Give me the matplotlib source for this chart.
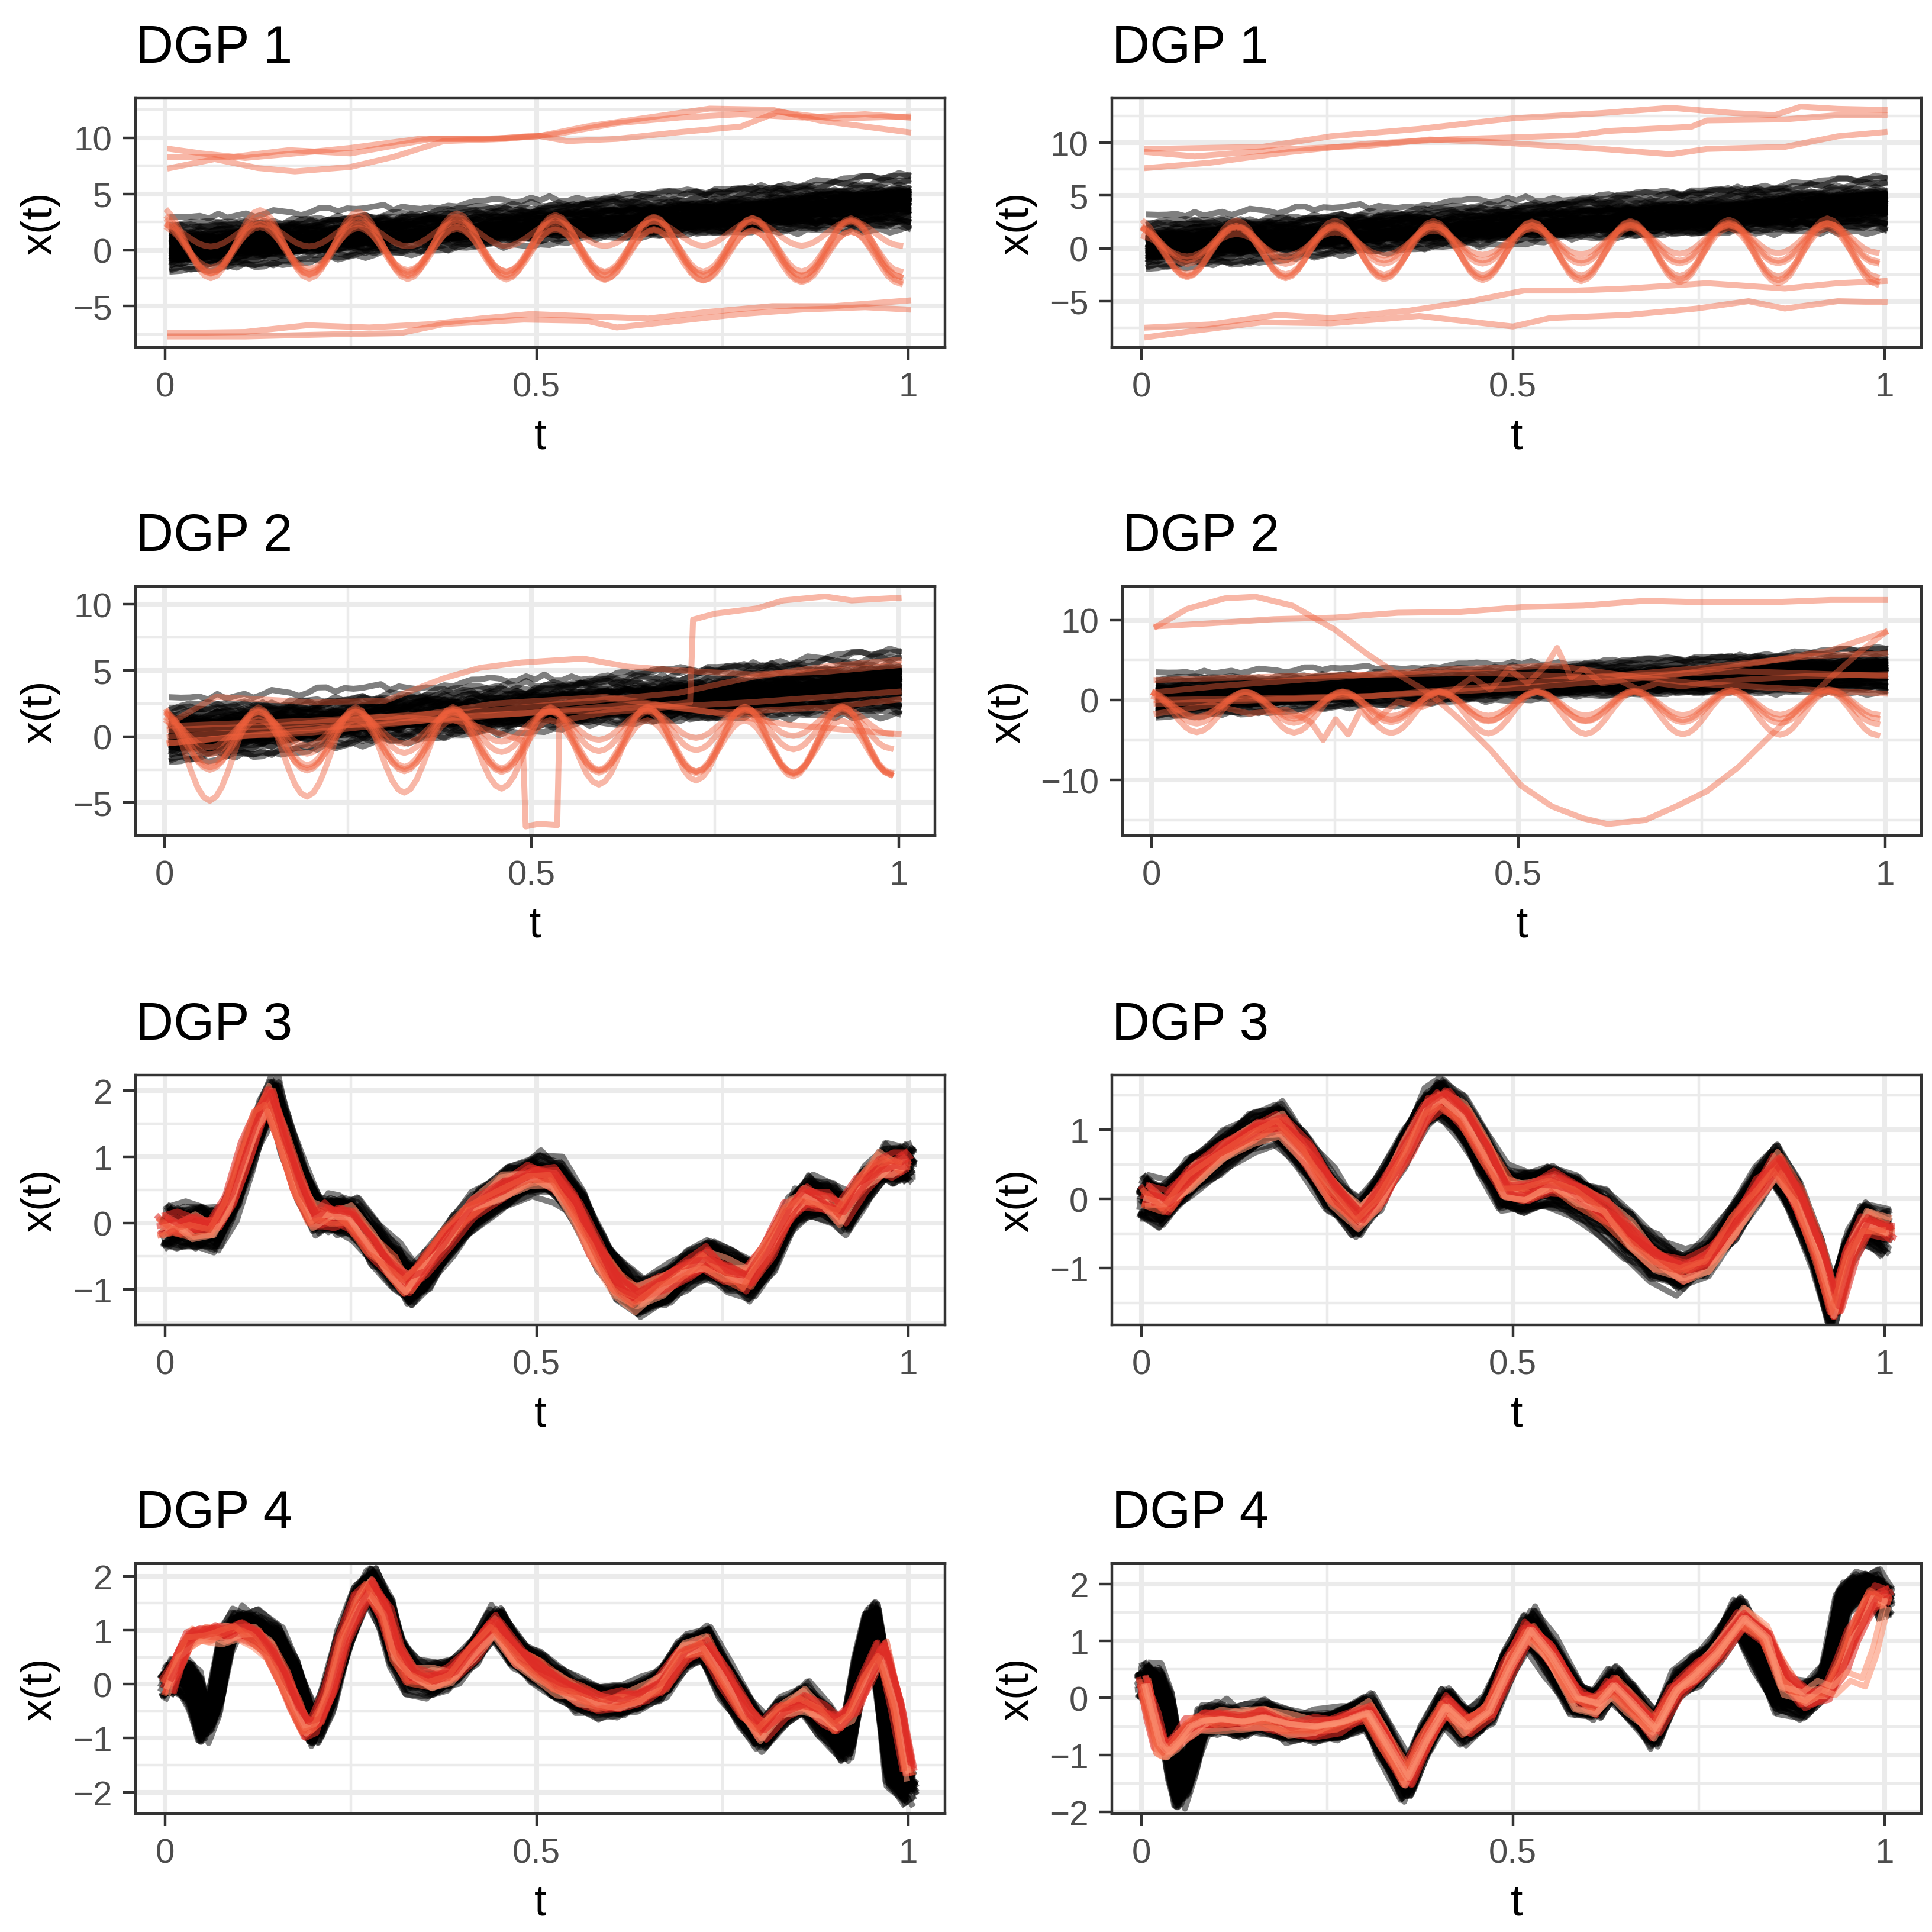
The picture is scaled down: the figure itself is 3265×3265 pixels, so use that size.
import numpy as np
import matplotlib
matplotlib.use("Agg")
import matplotlib.pyplot as plt
from matplotlib.ticker import FixedLocator

plt.rcParams['font.family'] = ['Liberation Sans', 'DejaVu Sans']

W = 3266
DPI = 200
LW = 3.6
INK = '#333333'
GRID = '#EBEBEB'
SALMON = '#F0603C'
SALMON_ALPHA = 0.45
RED = '#DE2D26'
MID = '#EF5A3C'

# roughness of the curves, read as a unitless -1..1 pattern
JITTER = [0.42, -0.87, 0.15, 0.93, -0.34, -0.61, 0.78, -0.05, -0.92, 0.51,
          0.27, -0.73, 0.66, -0.18, -0.99, 0.38, 0.84, -0.46, 0.09, -0.64,
          0.97, -0.29, 0.55, -0.81, 0.21, 0.71, -0.12, -0.57, 0.88, -0.39,
          0.03, -0.95, 0.62, 0.33, -0.68, 0.80, -0.22, -0.50, 0.47, 0.96,
          -0.77, 0.12, -0.41, 0.69, -0.90, 0.25, 0.58, -0.08, -0.84, 0.36,
          0.75, -0.60, 0.18, -0.31, 0.91, -0.70, 0.06, 0.49, -0.97, 0.30, -0.15]

# black band of DGP 1/2: offset of each curve at t=0 and at t=1
WALK_START = [0.1, -0.4, 0.6, -1.1, 1.3, -0.2, 0.3, -0.8, 0.9, -1.6,
              1.8, -0.6, 0.0, 0.5, -1.3, 1.0, -2.4, 2.6, -0.1, 0.4,
              -0.9, 1.5, -1.9, 0.7, -0.3, 0.2, -0.7, 1.1, -1.4, 2.1,
              -0.5, 0.8, -1.0, 0.3, -2.0, 1.7, -0.2, 0.6, -1.2, 1.2]
WALK_END = [1.2, -0.3, -1.5, 0.4, 2.5, -0.8, 0.1, 0.9, -2.3, 0.6,
            1.6, -1.1, -0.5, 0.2, 1.0, -1.8, 0.7, 2.0, -0.2, -1.3,
            0.5, 1.4, -0.6, -2.0, 0.3, 0.8, -0.9, 1.9, -0.1, -1.6,
            0.0, 1.1, -0.4, 2.6, -1.0, 0.4, -0.7, 1.3, -1.4, 0.6]

# black curves of DGP 3/4: vertical offset and time shift of each curve
SHAPE_OFF = [0.02, -0.05, 0.08, -0.01, 0.04, -0.09, 0.06, -0.03, 0.0, 0.11,
             -0.07, 0.03, -0.12, 0.05, -0.02, 0.09, -0.06, 0.01, -0.1, 0.07,
             -0.04, 0.12, -0.08, 0.02, 0.04, -0.01, 0.1, -0.05, 0.06, -0.11,
             0.03, -0.03, 0.08, -0.07, 0.0, 0.05, -0.09, 0.01, -0.02, 0.07]
SHAPE_DT = [0.001, -0.003, 0.004, -0.006, 0.002, 0.0, -0.002, 0.005, -0.004, 0.003,
            -0.001, 0.006, -0.005, 0.001, 0.002, -0.003, 0.004, -0.002, 0.0, 0.003,
            -0.006, 0.005, -0.001, 0.002, -0.004, 0.001, 0.003, -0.005, 0.006, -0.002,
            0.0, 0.004, -0.003, 0.002, -0.001, 0.005, -0.004, 0.001, -0.006, 0.003]
RED_OFF = [0.03, -0.06, 0.08, -0.02, 0.0, 0.05, -0.09, 0.1, -0.04, 0.02]
RED_DT = [-0.006, -0.003, 0.0, 0.003, -0.008, 0.005, -0.001, 0.002, -0.004, 0.006]
RED_TONE = [RED, RED, '#FC9272', RED, RED, MID, RED, '#FC9272', RED, MID]

# sinusoidal outliers of DGP 1/2: peak at t~0.128, period ~0.1325
WAVE_PEAK = 0.128
WAVE_PERIOD = 0.1325
WAVE_CYCLE = [0.92, 0.71, 0.38, 0.0, -0.38, -0.71, -0.92, -1.0,
              -0.92, -0.71, -0.38, 0.0, 0.38, 0.71, 0.92, 1.0]

# ---------------- DGP 1, left ----------------
d1l_band = (0.2, 4.1, 1.0)
d1l_drift = [
    ([0.007, 0.05, 0.108, 0.175, 0.25, 0.342, 0.425, 0.5, 0.567, 0.65, 0.733, 0.817, 0.883, 1.0],
     [9.0, 8.6, 8.2, 8.6, 9.1, 9.9, 9.9, 10.1, 11.0, 11.8, 12.6, 12.5, 11.5, 10.5]),
    ([0.007, 0.092, 0.167, 0.25, 0.358, 0.442, 0.5, 0.542, 0.608, 0.692, 0.775, 0.825, 0.9, 1.0],
     [8.3, 8.3, 8.9, 8.6, 9.9, 9.9, 10.2, 9.7, 9.9, 10.5, 11.0, 12.3, 11.7, 11.9]),
    ([0.007, 0.067, 0.125, 0.175, 0.25, 0.308, 0.375, 0.458, 0.525, 0.608, 0.692, 0.775, 0.858, 0.942, 1.0],
     [7.3, 8.1, 7.3, 7.0, 7.4, 8.3, 9.7, 9.9, 10.3, 11.3, 11.8, 12.1, 11.8, 12.1, 11.8]),
    ([0.007, 0.108, 0.192, 0.275, 0.358, 0.425, 0.492, 0.567, 0.65, 0.733, 0.817, 0.9, 1.0],
     [-7.4, -7.3, -6.7, -6.9, -6.6, -6.1, -5.7, -5.9, -6.1, -5.5, -5.0, -5.0, -4.5]),
    ([0.007, 0.108, 0.233, 0.317, 0.375, 0.483, 0.567, 0.608, 0.692, 0.775, 0.858, 0.942, 1.0],
     [-7.7, -7.7, -7.5, -7.4, -6.6, -6.2, -6.3, -6.9, -6.3, -5.7, -5.3, -5.1, -5.3]),
]
d1l_sinus = [(0.6, -0.1, 3.1, 2.7), (0.5, 0.2, 2.6, 2.6), (0.3, -0.4, 1.8, 2.0),
             (1.3, 1.5, 1.0, 1.1), (0.2, -0.7, 2.2, 2.3), (0.4, 0.3, 2.4, 2.2)]

# ---------------- DGP 1, right ----------------
d1r_band = (0.3, 4.0, 1.05)
d1r_drift = [
    ([0.008, 0.163, 0.255, 0.374, 0.5, 0.62, 0.712, 0.796, 0.852, 0.887, 0.937, 1.0],
     [9.4, 9.6, 10.6, 11.3, 12.3, 12.8, 13.3, 12.8, 12.6, 13.4, 13.2, 13.1]),
    ([0.008, 0.072, 0.198, 0.304, 0.388, 0.487, 0.529, 0.62, 0.712, 0.761, 0.866, 0.937, 1.0],
     [9.1, 8.7, 9.4, 9.7, 10.3, 10.0, 9.8, 9.4, 8.9, 9.4, 9.6, 10.6, 11.0]),
    ([0.008, 0.093, 0.198, 0.304, 0.409, 0.5, 0.585, 0.627, 0.74, 0.761, 0.866, 0.937, 1.0],
     [7.6, 8.1, 9.1, 9.9, 10.3, 10.5, 10.7, 11.1, 11.5, 12.1, 12.2, 12.6, 12.6]),
    ([0.008, 0.093, 0.184, 0.255, 0.36, 0.444, 0.515, 0.585, 0.655, 0.761, 0.866, 0.937, 1.0],
     [-7.5, -7.2, -6.3, -6.6, -5.9, -5.0, -4.0, -4.0, -3.8, -3.3, -3.8, -3.3, -3.1]),
    ([0.008, 0.072, 0.163, 0.255, 0.374, 0.5, 0.55, 0.655, 0.747, 0.817, 0.866, 0.937, 1.0],
     [-8.4, -7.8, -7.0, -7.1, -6.4, -7.4, -6.6, -6.3, -5.7, -5.0, -5.7, -5.0, -5.1]),
]
d1r_sinus = [(-0.3, -0.1, 2.3, 3.0), (0.0, -0.5, 2.7, 2.9), (0.3, 0.4, 1.8, 1.8),
             (0.2, 1.0, 1.0, 1.4), (-0.2, -0.4, 2.2, 2.3), (0.4, 0.6, 1.5, 1.8)]

# ---------------- DGP 2, left ----------------
d2l_band = (0.2, 3.9, 1.0)
d2l_drift = [
    ([0.007, 0.1, 0.2, 0.3, 0.4, 0.5, 0.6, 0.7, 0.716, 0.72, 0.75, 0.807, 0.843, 0.9, 0.936, 1.0],
     [-0.5, 0.0, 0.3, 0.9, 1.5, 1.8, 2.0, 2.5, 2.6, 8.85, 9.3, 9.7, 10.3, 10.6, 10.3, 10.5]),
    ([0.007, 0.1, 0.2, 0.3, 0.4, 0.488, 0.492, 0.51, 0.535, 0.538, 0.6, 0.7, 0.8, 0.9, 1.0],
     [0.8, 1.0, 1.2, 1.5, 1.2, -0.3, -6.8, -6.6, -6.7, 1.2, 1.8, 2.3, 2.6, 3.0, 3.4]),
    ([0.007, 0.07, 0.2, 0.3, 0.38, 0.43, 0.486, 0.57, 0.63, 0.7, 0.8, 0.9, 1.0],
     [1.0, 3.0, 2.6, 2.7, 4.4, 5.2, 5.6, 5.9, 5.3, 5.0, 4.7, 4.9, 5.4]),
    ([0.007, 0.15, 0.3, 0.45, 0.6, 0.7, 0.8, 0.9, 1.0],
     [0.5, 0.8, 1.5, 2.0, 2.8, 3.3, 4.5, 5.3, 5.8]),
    ([0.007, 0.1, 0.2, 0.3, 0.45, 0.6, 0.75, 0.9, 1.0],
     [-0.5, 0.0, 0.5, 1.2, 2.5, 3.0, 1.8, 2.2, 2.8]),
    ([0.007, 0.15, 0.3, 0.5, 0.65, 0.75, 0.85, 0.93, 1.0],
     [0.0, 0.5, 1.0, 1.8, 2.5, 1.8, 0.9, 0.5, 0.2]),
]
d2l_sinus = [(-1.4, -0.2, 3.6, 2.5), (-0.3, -0.5, 2.2, 2.4), (0.0, -0.3, 2.0, 2.6),
             (0.2, 0.6, 1.6, 1.5), (-0.5, -0.8, 1.8, 2.0), (0.3, 1.2, 1.2, 1.0)]

# ---------------- DGP 2, right ----------------
d2r_band = (0.3, 3.5, 1.15)
d2r_drift = [
    ([0.007, 0.083, 0.167, 0.25, 0.336, 0.42, 0.504, 0.589, 0.673, 0.757, 0.841, 0.926, 1.0],
     [9.2, 9.6, 10.1, 10.3, 10.9, 11.0, 11.6, 11.8, 12.4, 12.2, 12.2, 12.5, 12.5]),
    ([0.007, 0.049, 0.1, 0.142, 0.192, 0.25, 0.293, 0.336, 0.378, 0.42, 0.462, 0.504,
      0.546, 0.589, 0.622, 0.673, 0.715, 0.757, 0.8, 0.841, 0.884, 0.926, 0.968, 1.0],
     [9.2, 11.4, 12.7, 12.9, 11.8, 8.8, 5.8, 3.2, 0.9, -2.4, -6.2, -10.7,
      -13.3, -14.8, -15.5, -15.0, -13.3, -11.4, -8.4, -4.7, -0.9, 2.8, 6.2, 8.4]),
    ([0.007, 0.083, 0.133, 0.184, 0.218, 0.234, 0.251, 0.268, 0.285, 0.302, 0.336, 0.369,
      0.403, 0.437, 0.462, 0.487, 0.513, 0.538, 0.553, 0.572, 0.589, 0.614, 0.639, 0.664,
      0.69, 0.723, 0.757, 0.8, 0.9, 1.0],
     [-1.7, -0.6, -1.7, -1.2, -2.8, -5.0, -2.4, -4.3, -1.3, -2.8, -0.2, -0.9,
      0.6, 2.8, 1.3, 3.9, 2.1, 4.3, 6.5, 2.8, 3.9, 2.1, 2.4, 1.3,
      2.1, 1.7, 2.1, 2.5, 3.0, 3.2]),
    ([0.007, 0.15, 0.3, 0.5, 0.6, 0.7, 0.78, 0.85, 0.926, 1.0],
     [0.0, 0.2, 0.5, 1.5, 2.2, 3.0, 4.0, 5.0, 6.2, 8.5]),
    ([0.007, 0.1, 0.2, 0.3, 0.4, 0.55, 0.65, 0.75, 0.85, 1.0],
     [1.0, 1.8, 2.5, 3.2, 3.8, 4.3, 3.0, 2.0, 1.5, 0.8]),
    ([0.007, 0.15, 0.3, 0.45, 0.55, 0.65, 0.75, 0.9, 1.0],
     [-0.5, 0.0, 0.5, 1.6, 2.5, 3.2, 4.0, 5.5, 5.8]),
    ([0.007, 0.2, 0.45, 0.6, 0.8, 1.0],
     [2.5, 3.0, 3.4, 2.8, 3.6, 3.0]),
]
d2r_sinus = [(-1.5, -1.7, 2.5, 2.7), (-1.0, -0.5, 2.0, 1.8),
             (-0.6, -1.0, 1.6, 2.0), (-0.8, -0.2, 1.3, 1.6)]

# ---------------- DGP 3 ----------------
d3l_t = [0.005, 0.022, 0.045, 0.072, 0.093, 0.114, 0.132, 0.146, 0.163, 0.184, 0.205, 0.22,
         0.235, 0.255, 0.283, 0.311, 0.332, 0.353, 0.388, 0.416, 0.458, 0.5, 0.529, 0.557,
         0.585, 0.613, 0.641, 0.677, 0.705, 0.733, 0.761, 0.789, 0.817, 0.845, 0.866, 0.895,
         0.916, 0.944, 0.965, 0.985, 1.0]
d3l_x = [-0.03, -0.03, -0.05, -0.09, 0.32, 1.07, 1.6, 1.9, 1.28, 0.59, 0.12, 0.14,
         0.12, 0.06, -0.33, -0.66, -0.93, -0.69, -0.18, 0.18, 0.53, 0.74, 0.65, 0.24,
         -0.42, -0.9, -1.14, -0.93, -0.72, -0.54, -0.72, -0.87, -0.42, 0.18, 0.41, 0.3,
         0.12, 0.59, 0.86, 0.89, 0.9]
d3r_t = [0.005, 0.03, 0.065, 0.107, 0.149, 0.184, 0.219, 0.255, 0.29, 0.318, 0.353, 0.381,
         0.402, 0.43, 0.459, 0.487, 0.515, 0.55, 0.585, 0.62, 0.655, 0.69, 0.726, 0.761,
         0.796, 0.831, 0.852, 0.88, 0.909, 0.93, 0.951, 0.972, 1.0]
d3r_x = [0.05, -0.07, 0.33, 0.67, 0.95, 1.1, 0.67, 0.1, -0.3, 0.05, 0.73, 1.3,
         1.47, 1.18, 0.67, 0.16, 0.1, 0.22, 0.05, -0.18, -0.52, -0.86, -1.06, -0.86,
         -0.35, 0.22, 0.5, -0.01, -0.8, -1.55, -0.75, -0.35, -0.47]

# ---------------- DGP 4 ----------------
d4l_t = [0.005, 0.015, 0.03, 0.04, 0.054, 0.068, 0.082, 0.096, 0.121, 0.149, 0.17, 0.191,
         0.202, 0.219, 0.24, 0.262, 0.276, 0.297, 0.311, 0.332, 0.36, 0.388, 0.416, 0.444,
         0.473, 0.5, 0.529, 0.557, 0.585, 0.613, 0.641, 0.669, 0.697, 0.726, 0.754, 0.782,
         0.803, 0.831, 0.859, 0.887, 0.916, 0.937, 0.951, 0.965, 0.979, 1.0]
d4l_x = [0.08, 0.22, 0.08, -0.1, -0.8, -0.29, 0.8, 1.1, 1.06, 0.8, 0.22, -0.58,
         -0.84, -0.29, 0.8, 1.6, 1.86, 1.35, 0.62, 0.15, 0.08, 0.22, 0.62, 1.17,
         0.59, 0.3, 0.0, -0.22, -0.36, -0.29, -0.18, 0.0, 0.59, 0.75, 0.08, -0.58,
         -0.95, -0.51, -0.29, -0.65, -1.16, 0.44, 1.24, 0.08, -1.57, -1.93]
d4l_red_t = [0.005, 0.02, 0.035, 0.05, 0.065, 0.08, 0.1, 0.121, 0.14, 0.16, 0.175, 0.19,
             0.205, 0.222, 0.24, 0.262, 0.276, 0.297, 0.311, 0.332, 0.36, 0.388, 0.416, 0.444,
             0.473, 0.5, 0.529, 0.557, 0.585, 0.613, 0.641, 0.669, 0.697, 0.726, 0.754, 0.782,
             0.803, 0.831, 0.859, 0.887, 0.905, 0.925, 0.945, 0.965, 0.985, 1.0]
d4l_red_x = [0.0, 0.5, 0.85, 0.9, 0.92, 0.95, 1.0, 0.9, 0.6, 0.1, -0.35, -0.8,
             -0.7, -0.15, 0.8, 1.55, 1.8, 1.3, 0.6, 0.15, 0.1, 0.2, 0.6, 1.1,
             0.55, 0.3, 0.0, -0.2, -0.35, -0.3, -0.2, 0.0, 0.55, 0.72, 0.1, -0.55,
             -0.9, -0.5, -0.3, -0.55, -0.75, -0.5, 0.1, 0.66, -0.4, -1.57]
d4r_t = [0.005, 0.019, 0.033, 0.044, 0.054, 0.068, 0.082, 0.107, 0.135, 0.163, 0.198, 0.233,
         0.269, 0.304, 0.325, 0.357, 0.381, 0.409, 0.437, 0.466, 0.494, 0.522, 0.55, 0.585,
         0.613, 0.634, 0.655, 0.69, 0.719, 0.747, 0.775, 0.803, 0.831, 0.859, 0.894, 0.923,
         0.944, 0.965, 0.986, 1.0]
d4r_x = [0.32, 0.25, -0.2, -1.07, -1.65, -1.07, -0.44, -0.37, -0.44, -0.34, -0.48, -0.51,
         -0.44, -0.24, -0.72, -1.48, -0.72, -0.1, -0.51, -0.24, 0.6, 1.25, 0.73, -0.03,
         -0.1, 0.25, -0.03, -0.58, 0.18, 0.49, 0.87, 1.46, 0.84, 0.04, -0.03, 0.32,
         1.7, 1.94, 1.91, 1.7]
d4r_red_t = [0.005, 0.015, 0.025, 0.035, 0.05, 0.065, 0.082, 0.107, 0.135, 0.163, 0.198, 0.233,
             0.269, 0.304, 0.325, 0.357, 0.381, 0.409, 0.437, 0.466, 0.494, 0.522, 0.55, 0.585,
             0.613, 0.634, 0.655, 0.69, 0.719, 0.747, 0.775, 0.81, 0.84, 0.865, 0.894, 0.923,
             0.944, 0.958, 0.972, 0.986, 1.0]
d4r_red_x = [0.2, -0.3, -0.8, -0.95, -0.75, -0.5, -0.4, -0.37, -0.42, -0.34, -0.46, -0.5,
             -0.42, -0.26, -0.7, -1.4, -0.75, -0.15, -0.5, -0.25, 0.55, 1.2, 0.75, 0.0,
             -0.1, 0.22, -0.05, -0.55, 0.15, 0.45, 0.82, 1.4, 1.05, 0.35, 0.0, 0.1,
             0.6, 1.1, 1.5, 1.8, 1.75]
d4r_late_t = [0.86, 0.89, 0.91, 0.93, 0.95, 0.97, 0.985, 1.0]
d4r_late_x = [0.2, 0.1, 0.3, 0.2, 0.45, 0.35, 0.9, 1.7]

band_t = np.linspace(0.01, 1.0, 81)
wave_t = WAVE_PEAK - WAVE_PERIOD + WAVE_PERIOD / 16 * np.arange(1, 121)
wave_v = np.array((WAVE_CYCLE * 8)[:120])


def jit(n, i, seed):
    return np.array([JITTER[(k * 7 + i * 13 + seed) % len(JITTER)] for k in range(n)])


def band_curve(ax, band, s, e, i, amp):
    c0, c1, spread = band
    y0 = c0 + spread * s
    y1 = c1 + spread * e
    y = y0 + (y1 - y0) * band_t + amp * jit(len(band_t), i, 0)
    ax.plot(band_t, y, color='black', alpha=0.5, lw=LW, zorder=2)


def draw_dgp12(ax, band, drift, sinus, amp=0.3):
    n = len(WALK_START)
    for i in range(n):
        band_curve(ax, band, WALK_START[i], WALK_END[i], i, amp)
    for i in range(n):
        s = WALK_START[i]
        e = WALK_END[(i + 17) % n]
        if abs(s) <= 1.3 and abs(e) <= 1.3:
            band_curve(ax, band, s, e, i + 40, amp)
    for c0, c1, a0, a1 in sinus:
        y = c0 + (c1 - c0) * wave_t + (a0 + (a1 - a0) * wave_t) * wave_v
        ax.plot(wave_t, y, color=SALMON, alpha=SALMON_ALPHA, lw=LW, zorder=3)
    for t, v in drift:
        ax.plot(t, v, color=SALMON, alpha=SALMON_ALPHA, lw=LW, zorder=3)


def draw_shape(ax, t, x, amp, dt_scale, off_scale=1.6):
    t = np.array(t)
    x = np.array(x)
    for rep, sign in enumerate((1, -1)):
        for i, (o, d) in enumerate(zip(SHAPE_OFF, SHAPE_DT)):
            ax.plot(t + sign * d * dt_scale, x + sign * o * off_scale
                    + amp * jit(len(t), i, 3 + 19 * rep),
                    color='black', alpha=0.5, lw=LW, zorder=2)


def draw_red(ax, t, x, amp, bias):
    t = np.array(t)
    x = np.array(x)
    for rep, sign in enumerate((1, -1)):
        for i, (o, d, c) in enumerate(zip(RED_OFF, RED_DT, RED_TONE)):
            ax.plot(t + sign * d + bias, x + sign * o + amp * jit(len(t), i, 29 + 11 * rep),
                    color=c, alpha=0.6, lw=LW, zorder=3)


def style(ax, ylim, yticks, yminor, title):
    ax.set_xlim(-0.0395, 1.0495)
    ax.set_ylim(*ylim)
    ax.xaxis.set_major_locator(FixedLocator([0, 0.5, 1]))
    ax.set_xticklabels(['0', '0.5', '1'])
    ax.xaxis.set_minor_locator(FixedLocator([0.25, 0.75]))
    ax.yaxis.set_major_locator(FixedLocator(yticks))
    ax.yaxis.set_minor_locator(FixedLocator(yminor))
    ax.grid(which='major', color=GRID, lw=2.9)
    ax.grid(which='minor', color=GRID, lw=1.6)
    ax.set_axisbelow(True)
    ax.tick_params(which='major', length=7.5, width=1.6, color=INK,
                   labelsize=21, labelcolor='#4D4D4D')
    ax.tick_params(which='minor', length=0)
    ax.tick_params(axis='x', pad=7)
    ax.tick_params(axis='y', pad=6.7)
    for s in ax.spines.values():
        s.set_color(INK)
        s.set_linewidth(1.6)
        s.set_zorder(5)
    ax.set_xlabel('t', fontsize=26.5, labelpad=8)
    ax.set_ylabel('x(t)', fontsize=26.5, labelpad=7.5)
    ax.set_title(title, loc='left', fontsize=32, pad=22)


def rect(x0, x1, y0, y1):
    return [x0 / W, 1 - y1 / W, (x1 - x0) / W, (y1 - y0) / W]


fig = plt.figure(figsize=(W / DPI, W / DPI), dpi=DPI)

# row 1
ax = fig.add_axes(rect(229, 1597, 167, 588))
draw_dgp12(ax, d1l_band, d1l_drift, d1l_sinus)
style(ax, (-8.67, 13.52), [-5, 0, 5, 10], [-7.5, -2.5, 2.5, 7.5, 12.5], 'DGP 1')

ax = fig.add_axes(rect(1879, 3247, 167, 588))
draw_dgp12(ax, d1r_band, d1r_drift, d1r_sinus)
style(ax, (-9.37, 14.2), [-5, 0, 5, 10], [-7.5, -2.5, 2.5, 7.5, 12.5], 'DGP 1')

# row 2
ax = fig.add_axes(rect(229, 1580, 992, 1413))
draw_dgp12(ax, d2l_band, d2l_drift, d2l_sinus)
style(ax, (-7.49, 11.36), [-5, 0, 5, 10], [-2.5, 2.5, 7.5], 'DGP 2')

ax = fig.add_axes(rect(1897, 3247, 992, 1413))
draw_dgp12(ax, d2r_band, d2r_drift, d2r_sinus)
style(ax, (-16.93, 14.19), [-10, 0, 10], [-15, -5, 5], 'DGP 2')

# row 3
ax = fig.add_axes(rect(229, 1597, 1818, 2240))
draw_shape(ax, d3l_t, d3l_x, 0.17, 1.2)
draw_red(ax, d3l_t, d3l_x, 0.12, -0.006)
style(ax, (-1.54, 2.23), [-1, 0, 1, 2], [-1.5, -0.5, 0.5, 1.5], 'DGP 3')

ax = fig.add_axes(rect(1879, 3247, 1818, 2240))
draw_shape(ax, d3r_t, d3r_x, 0.16, 1.2)
draw_red(ax, d3r_t, d3r_x, 0.11, 0.004)
style(ax, (-1.82, 1.79), [-1, 0, 1], [-1.5, -0.5, 0.5, 1.5], 'DGP 3')

# row 4
ax = fig.add_axes(rect(229, 1597, 2643, 3066))
draw_shape(ax, d4l_t, d4l_x, 0.17, 1.6)
draw_red(ax, d4l_red_t, d4l_red_x, 0.12, 0.0)
style(ax, (-2.40, 2.24), [-2, -1, 0, 1, 2], [-1.5, -0.5, 0.5, 1.5], 'DGP 4')

ax = fig.add_axes(rect(1879, 3247, 2643, 3066))
draw_shape(ax, d4r_t, d4r_x, 0.17, 1.6)
draw_red(ax, d4r_red_t, d4r_red_x, 0.12, 0.0)
keep = [k for k, tv in enumerate(d4r_red_t) if tv < d4r_late_t[0]]
for j in range(2):
    lt = [d4r_red_t[k] for k in keep] + d4r_late_t
    lx = [d4r_red_x[k] for k in keep] + [v - 0.15 * j for v in d4r_late_x]
    ax.plot(np.array(lt) + 0.004 * j, lx, color='#FC9272', alpha=0.6, lw=LW, zorder=3)
style(ax, (-2.03, 2.36), [-2, -1, 0, 1, 2], [-1.5, -0.5, 0.5, 1.5], 'DGP 4')

fig.savefig('out.png', dpi=DPI)
